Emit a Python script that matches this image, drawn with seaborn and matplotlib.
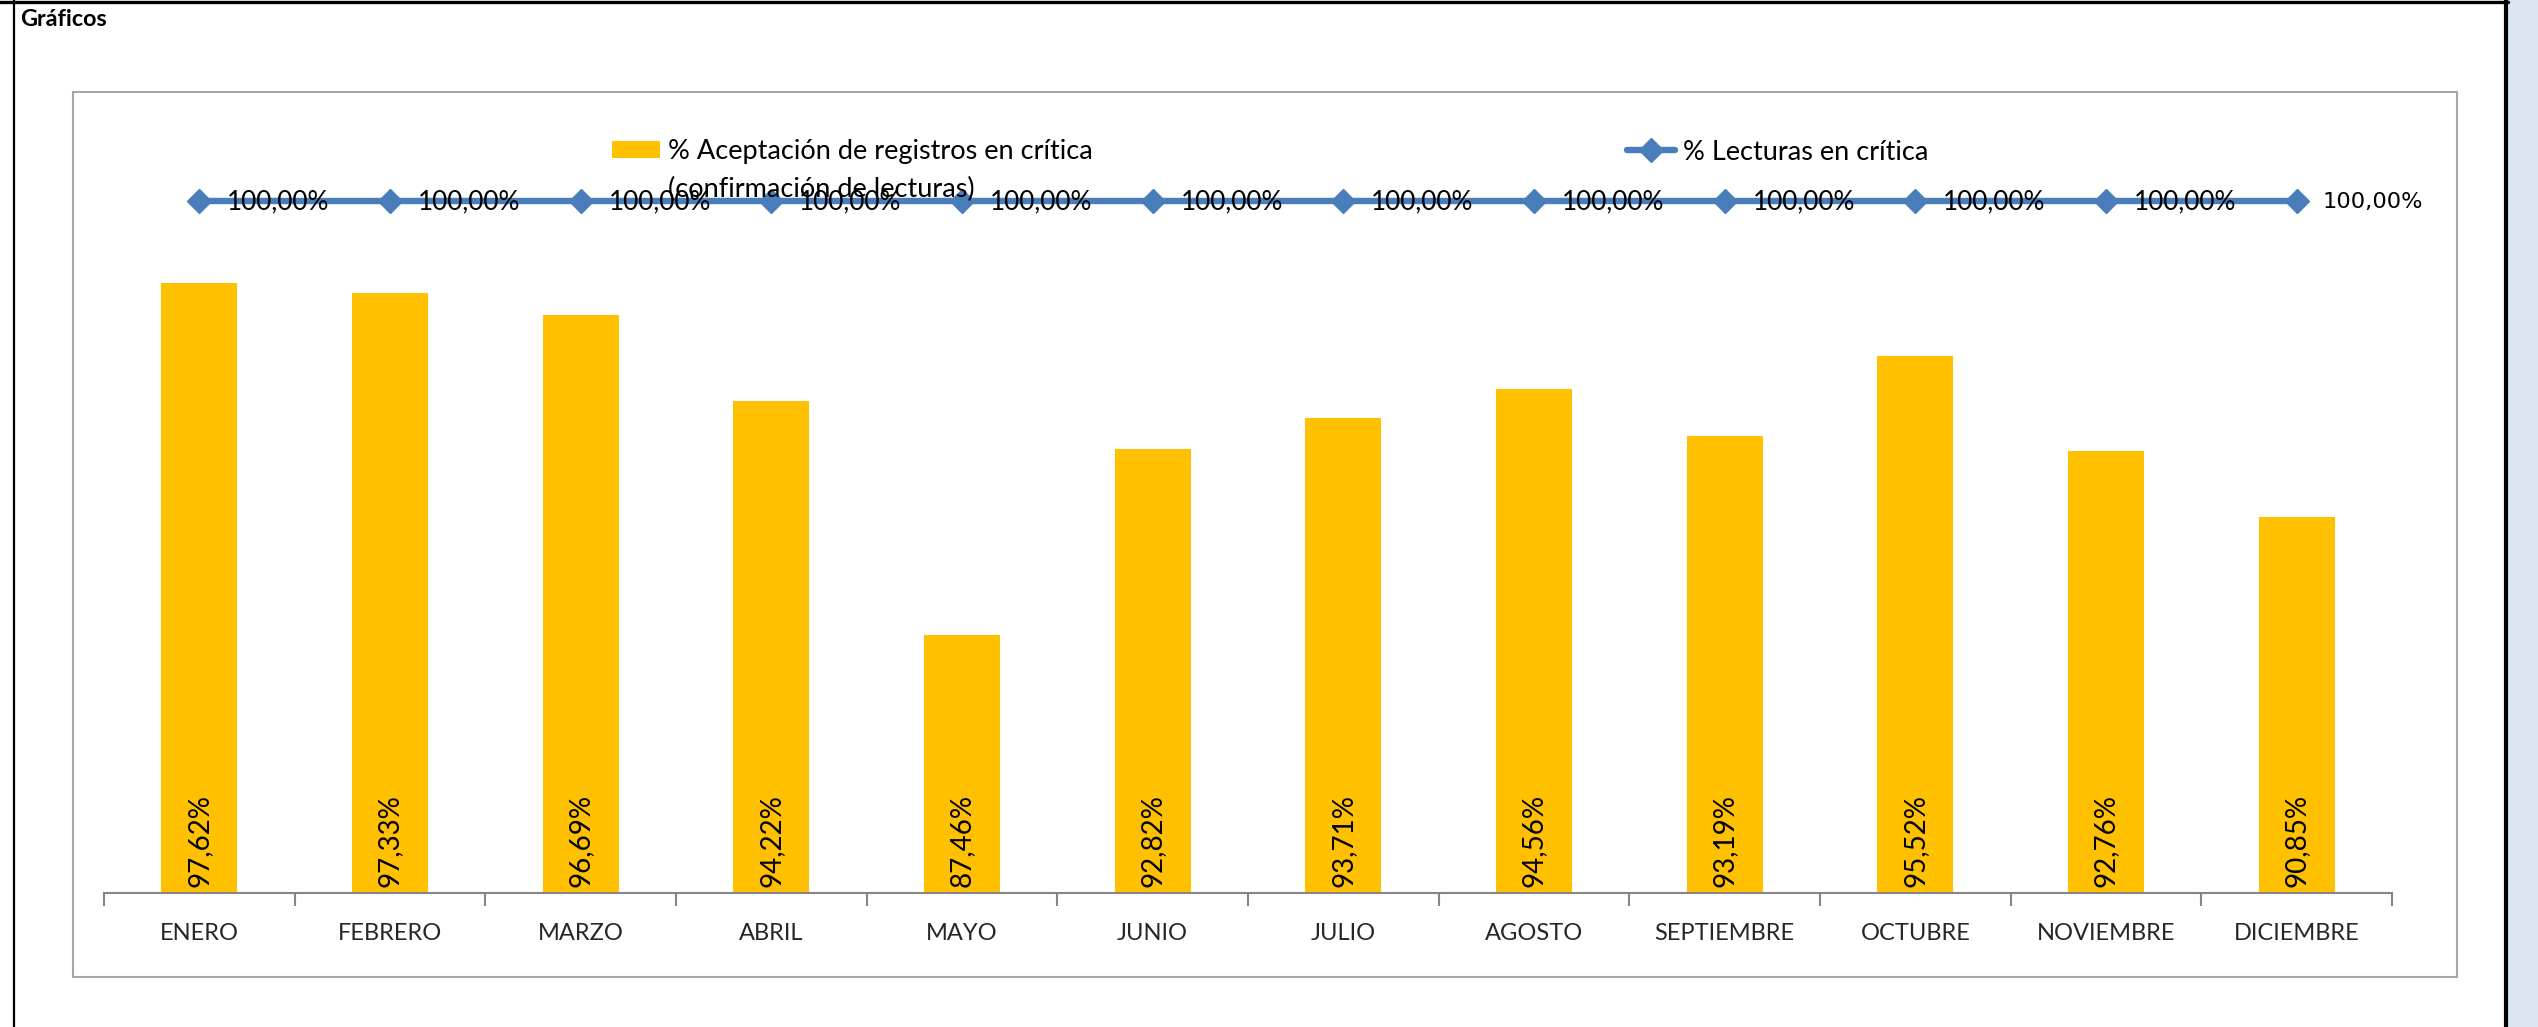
import matplotlib
matplotlib.use("Agg")
import matplotlib.pyplot as plt
import seaborn as sns
import pandas as pd
import numpy as np
from matplotlib.patches import Rectangle, Patch
from matplotlib.lines import Line2D

# ---------------- data ----------------
months = ["ENERO", "FEBRERO", "MARZO", "ABRIL", "MAYO", "JUNIO", "JULIO",
          "AGOSTO", "SEPTIEMBRE", "OCTUBRE", "NOVIEMBRE", "DICIEMBRE"]
aceptacion = [97.62, 97.33, 96.69, 94.22, 87.46, 92.82, 93.71, 94.56,
              93.19, 95.52, 92.76, 90.85]
lecturas = [100.00, 100.00, 100.00, 100.00, 100.00, 100.00, 100.00,
            100.00, 100.00, 100.00, 100.00, 100.00]
bar_series_name = "% Aceptación de registros en crítica"
bar_series_name2 = "(confirmación de lecturas)"
line_series_name = "% Lecturas en crítica"
title_text = "Gráficos"

BAR_COLOR = "#FFC000"
LINE_COLOR = "#4A7EBB"
AXIS_GRAY = "#868686"

sns.set_theme(style="white")
plt.rcParams["font.family"] = ["Lato", "DejaVu Sans"]
plt.rcParams["text.color"] = "black"


def fmt(v):
    return f"{v:.2f}%".replace(".", ",")


W, H = 2538, 1027
fig = plt.figure(figsize=(W / 100, H / 100), dpi=100)
fig.patch.set_facecolor("white")

# outer sheet decorations
fig.patches.append(Rectangle((2508 / W, 0), 1 - 2508 / W, 1, transform=fig.transFigure,
                             facecolor="#DCE6F2", edgecolor="none", zorder=0))
fig.lines.append(Line2D([0, 2508 / W], [1 - 1.5 / H, 1 - 1.5 / H], transform=fig.transFigure,
                        color="black", lw=2.4))
fig.lines.append(Line2D([14 / W, 14 / W], [0, 1], transform=fig.transFigure,
                        color="black", lw=1.6))
fig.lines.append(Line2D([2506 / W, 2506 / W], [0, 1], transform=fig.transFigure,
                        color="black", lw=3.0))
fig.text(20 / W, 1 - 19 / H, title_text, fontweight="bold", fontsize=16.8,
         va="center", ha="left", family=["Lato", "DejaVu Sans"])

# chart frame
fig.patches.append(Rectangle((73 / W, 1 - 977 / H), (2457 - 73) / W, (977 - 92) / H,
                             transform=fig.transFigure, fill=False,
                             edgecolor="#A6A6A6", lw=1.5, zorder=1))

ax = fig.add_axes([104 / W, 1 - 893 / H, (2392 - 104) / W, (893 - 200.6) / H])
ax.set_facecolor("none")

df = pd.DataFrame({"mes": months, "val": aceptacion})
sns.barplot(data=df, x="mes", y="val", color=BAR_COLOR, saturation=1, width=0.4,
            ax=ax, zorder=2, linewidth=0)

pos = np.arange(len(months))
ax.plot(pos, lecturas, color=LINE_COLOR, lw=4.6, marker="D", ms=12.5,
        clip_on=False, zorder=5)

ax.set_ylim(80, 100)
ax.set_xlim(-0.5, len(months) - 0.5)
ax.set_xlabel("")
ax.set_ylabel("")
ax.set_yticks([])

for s in ["top", "left", "right"]:
    ax.spines[s].set_visible(False)
ax.spines["bottom"].set_color(AXIS_GRAY)
ax.spines["bottom"].set_linewidth(1.5)

ax.set_xticks(pos)
ax.set_xticklabels(months, fontsize=17)
ax.set_xticks(np.arange(-0.5, len(months), 1.0), minor=True)
ax.tick_params(axis="x", which="major", length=0, pad=21.5)
ax.tick_params(axis="x", which="minor", length=9.5, width=1.5, color=AXIS_GRAY,
               direction="out", bottom=True)

# bar value labels (rotated, at the base inside bars)
for i, v in enumerate(aceptacion):
    ax.annotate(fmt(v), (i, 80), xytext=(0, 4), textcoords="offset points",
                rotation=90, ha="center", va="bottom", fontsize=20, zorder=6)

# line value labels
for i, v in enumerate(lecturas):
    if i == len(lecturas) - 1:
        ax.annotate(fmt(v), (i, v), xytext=(19, -1.3), textcoords="offset points",
                    ha="left", va="center", fontsize=16.2, family=["DejaVu Sans"],
                    annotation_clip=False, zorder=6)
    else:
        ax.annotate(fmt(v), (i, v), xytext=(20, -1.2), textcoords="offset points",
                    ha="left", va="center", fontsize=18.8, annotation_clip=False, zorder=6)

# legends
leg_fs = 19.5
leg1 = fig.legend(handles=[Patch(facecolor=BAR_COLOR, edgecolor="none")],
                  labels=[bar_series_name], loc="center left",
                  bbox_to_anchor=(612 / W, 1 - 152 / H), frameon=False,
                  fontsize=leg_fs, handlelength=1.77, handleheight=0.59,
                  handletextpad=0.3, borderpad=0, borderaxespad=0)
fig.text(668 / W, 1 - 189 / H, bar_series_name2, fontsize=leg_fs, va="center", ha="left")
leg2 = fig.legend(handles=[Line2D([], [], color=LINE_COLOR, lw=4.6, marker="D", ms=12.5)],
                  labels=[line_series_name], loc="center left",
                  bbox_to_anchor=(1627 / W, 1 - 152 / H), frameon=False,
                  fontsize=leg_fs, handlelength=1.77, handletextpad=0.3,
                  borderpad=0, borderaxespad=0)

fig.savefig("out.png", dpi=100, facecolor="white")
